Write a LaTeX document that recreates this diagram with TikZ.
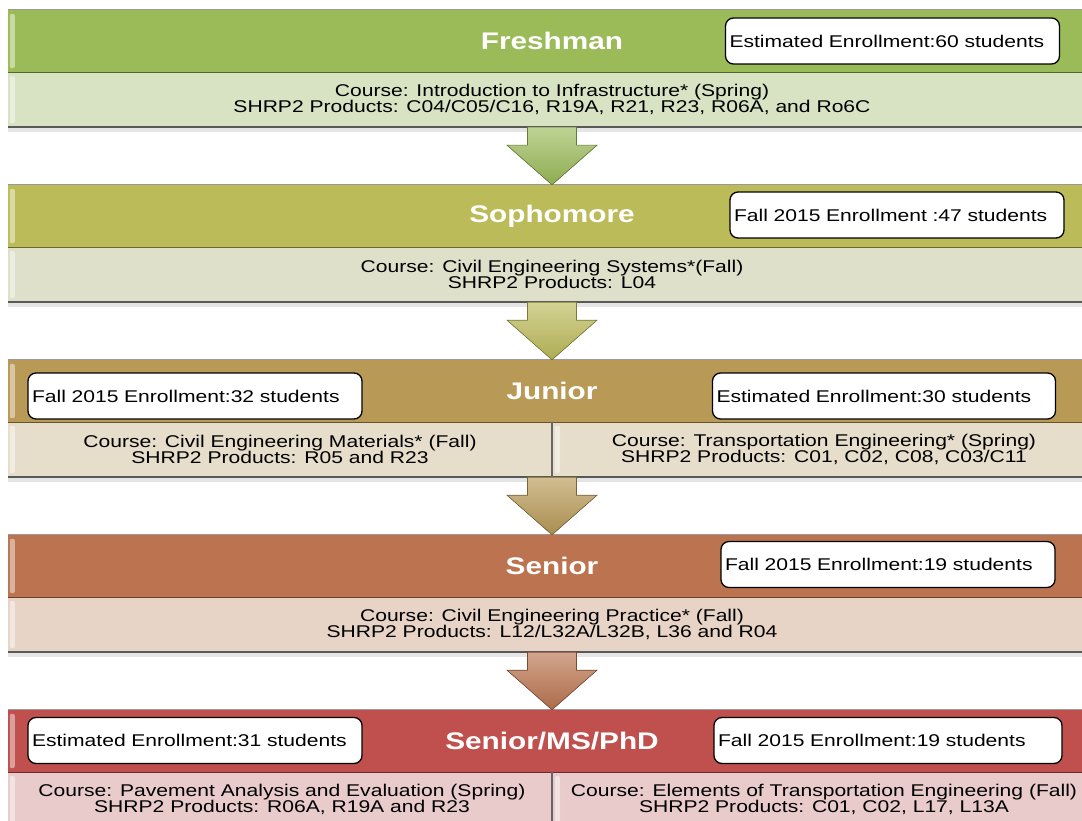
\documentclass[tikz,border=0pt]{standalone}
\usepackage{fontspec}
\setmainfont{Liberation Sans}[FakeStretch=1.24]
\usetikzlibrary{calc}

\definecolor{freshDark}{HTML}{9BBB59}
\definecolor{freshLight}{HTML}{D7E3C2}
\definecolor{sophDark}{HTML}{BCBB5A}
\definecolor{sophLight}{HTML}{DEE0C9}
\definecolor{junDark}{HTML}{B89A56}
\definecolor{junLight}{HTML}{E6DDCA}
\definecolor{senDark}{HTML}{BB744F}
\definecolor{senLight}{HTML}{E7D4C6}
\definecolor{gradDark}{HTML}{C0504D}
\definecolor{gradLight}{HTML}{E8CBCA}

\tikzset{
  header/.style={minimum width=1088pt, minimum height=62pt, inner sep=0pt, text=white,
    font=\fontsize{24}{28}\selectfont\bfseries},
  info/.style={minimum width=1088pt, minimum height=55pt, inner sep=0pt, align=center,
    font=\fontsize{17}{16.5}\selectfont},
  half/.style={inner sep=0pt, align=center, font=\fontsize{17}{16.5}\selectfont},
  enroll/.style={draw=black, line width=1.3pt, fill=white, rounded corners=8pt,
    minimum height=46pt, text width=#1, inner xsep=4pt, align=left,
    font=\fontsize{17}{20}\selectfont},
  enroll/.default=326pt,
  stagearrow/.style={draw=#1!65!black, line width=0.6pt, top color=#1!65!white, bottom color=#1!92!black},
  bevel/.style={fill=white, opacity=0.45, rounded corners=2pt},
}

% block arrow from one info band to the next header
\newcommand{\joinstages}[3]{%
  \filldraw[stagearrow=#3] ($(#1.south)+(-24.5,0)$) -- ($(#1.south)+(-24.5,18)$)
    -- ($(#1.south)+(-45,18)$) -- (#2.north) -- ($(#1.south)+(45,18)$)
    -- ($(#1.south)+(24.5,18)$) -- ($(#1.south)+(24.5,0)$) -- cycle;}

\begin{document}
\begin{tikzpicture}[x=1pt, y=-1pt]
    \useasboundingbox (0,0) rectangle (1082,821);
    \clip (0,0) rectangle (1082,821);
    % Freshman
    \node[header, fill=freshDark] (fresh) at (552,41) {Freshman};
    \node[info, fill=freshLight] (fresh-info) at (552,99.5)
        {Course: Introduction to Infrastructure* (Spring)\\
         SHRP2 Products: C04/C05/C16, R19A, R21, R23, R06A, and Ro6C};
    % Sophomore
    \node[header, fill=sophDark] (soph) at (552,216) {Sophomore};
    \node[info, fill=sophLight] (soph-info) at (552,274.5)
        {Course: Civil Engineering  Systems*(Fall)\\
         SHRP2 Products: L04};
    % Junior
    \node[header, fill=junDark] (jun) at (552,391) {Junior};
    \node[info, fill=junLight] (jun-info) at (552,449.5) {};
    \node[half] (jun-mat) at (280,449.5)
        {Course: Civil Engineering  Materials* (Fall)\\
         SHRP2 Products: R05 and  R23};
    \node[half] (jun-trans) at (824,449.5)
        {Course: Transportation  Engineering*  (Spring)\\
         SHRP2 Products: C01, C02, C08, C03/C11};
    % Senior
    \node[header, fill=senDark] (sen) at (552,566) {Senior};
    \node[info, fill=senLight] (sen-info) at (552,624.5)
        {Course: Civil Engineering  Practice* (Fall)\\
         SHRP2 Products: L12/L32A/L32B, L36 and  R04};
    % Senior/MS/PhD
    \node[header, fill=gradDark] (grad) at (552,741) {Senior/MS/PhD};
    \node[info, fill=gradLight] (grad-info) at (552,799.5) {};
    \node[half] (grad-pave) at (282,799.5)
        {Course: Pavement Analysis and Evaluation (Spring)\\
         SHRP2 Products: R06A, R19A and R23};
    \node[half] (grad-trans) at (824,799.5)
        {Course: Elements of Transportation Engineering  (Fall)\\
         SHRP2 Products: C01, C02, L17, L13A};

    % band edges and bevels
    \foreach \s in {fresh,soph,jun,sen,grad} {
        \draw[black!40, line width=1pt] (\s.north west) -- (\s.north east);
        \draw[\s Dark!55!black, line width=1pt] (\s.south west) -- (\s.south east);
        \fill[black!10] ($(\s-info.south west)+(0,1)$) rectangle ($(\s-info.south east)+(0,5)$);
        \draw[black!65, line width=1.6pt] (\s-info.south west) -- (\s-info.south east);
        \fill[bevel] ($(\s.north west)+(2,4)$) rectangle ($(\s.south west)+(7,-4)$);
        \fill[bevel] ($(\s-info.north west)+(2,4)$) rectangle ($(\s-info.south west)+(7,-4)$);
    }
    \foreach \s in {jun,grad} {
        \draw[black!60, line width=1.2pt] (\s-info.north) -- (\s-info.south);
        \fill[bevel] ($(\s-info.north)+(3,4)$) rectangle ($(\s-info.south)+(8,-4)$);
    }

    % enrollment boxes
    \node[enroll] (fresh-est) at (892.5,41) {Estimated Enrollment:60 students};
    \node[enroll] (soph-fall) at (897,215) {Fall 2015 Enrollment :47 students};
    \node[enroll] (jun-fall) at (195,396) {Fall 2015 Enrollment:32 students};
    \node[enroll=335pt] (jun-est) at (884,396) {Estimated Enrollment:30 students};
    \node[enroll] (sen-fall) at (888,564.5) {Fall 2015 Enrollment:19 students};
    \node[enroll] (grad-est) at (195,740.5) {Estimated Enrollment:31 students};
    \node[enroll=340pt] (grad-fall) at (888,740.5) {Fall 2015 Enrollment:19 students};

    % arrows between stages
    \joinstages{fresh-info}{soph}{freshDark}
    \joinstages{soph-info}{jun}{sophDark}
    \joinstages{jun-info}{sen}{junDark}
    \joinstages{sen-info}{grad}{senDark}
\end{tikzpicture}
\end{document}
